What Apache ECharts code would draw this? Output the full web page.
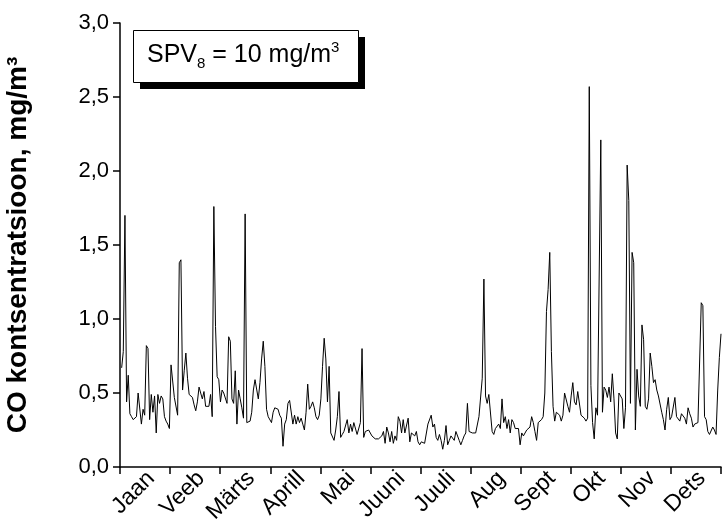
<!DOCTYPE html>
<html>
<head>
<meta charset="utf-8">
<script src="https://cdn.jsdelivr.net/npm/echarts@6/dist/echarts.min.js"></script>
<style>
html,body{margin:0;padding:0;background:#fff;}
#chart{width:722px;height:526px;}
</style>
</head>
<body>
<div id="chart"></div>
<script>
// Month labels (axis categories)
const months = ['Jaan','Veeb','Märts','Aprill','Mai','Juuni','Juuli','Aug','Sept','Okt','Nov','Dets'];
// Y tick values
const yTicks = [0, 0.5, 1.0, 1.5, 2.0, 2.5, 3.0];
// Daily CO concentration (mg/m3), month by month
const jan = [0.67,0.78,1.70,0.44,0.62,0.36,0.34,0.32,0.33,0.34,0.50,0.50,0.29,0.39,0.35,0.82,0.80,0.32,0.49,0.37,0.48,0.23,0.49,0.43,0.48,0.46,0.34,0.31,0.29,0.26,0.69];
const feb = [0.70,0.47,0.46,0.35,1.38,1.40,0.52,0.65,0.77,0.60,0.49,0.48,0.47,0.42,0.38,0.44,0.54,0.50,0.46,0.51,0.41,0.40,0.41,0.49,0.34,1.76,0.95,0.61];
const mar = [0.59,0.44,0.52,0.50,0.49,0.43,0.88,0.85,0.46,0.43,0.65,0.29,0.52,0.46,0.40,0.33,1.71,0.30,0.31,0.31,0.37,0.52,0.59,0.60,0.46,0.57,0.73,0.85,0.68,0.39,0.34];
const apr = [0.33,0.30,0.37,0.40,0.40,0.39,0.35,0.33,0.14,0.29,0.32,0.43,0.45,0.44,0.29,0.35,0.29,0.34,0.30,0.33,0.29,0.25,0.37,0.56,0.39,0.41,0.44,0.40,0.34,0.32];
const may = [0.35,0.46,0.68,0.87,0.73,0.44,0.68,0.23,0.22,0.18,0.25,0.34,0.51,0.20,0.22,0.24,0.23,0.32,0.23,0.29,0.24,0.30,0.31,0.22,0.23,0.30,0.80,0.20,0.24,0.23,0.25];
const jun = [0.24,0.21,0.20,0.19,0.18,0.19,0.18,0.21,0.24,0.16,0.27,0.23,0.17,0.24,0.16,0.21,0.18,0.34,0.31,0.23,0.32,0.23,0.23,0.33,0.17,0.23,0.22,0.21,0.24,0.17];
const jul = [0.15,0.17,0.17,0.16,0.15,0.29,0.30,0.35,0.27,0.29,0.20,0.18,0.22,0.18,0.12,0.18,0.28,0.15,0.18,0.21,0.20,0.18,0.24,0.25,0.18,0.15,0.18,0.21,0.23,0.43,0.24];
const aug = [0.23,0.23,0.23,0.23,0.24,0.34,0.34,0.60,1.27,0.48,0.43,0.49,0.49,0.24,0.22,0.26,0.25,0.29,0.26,0.46,0.30,0.34,0.26,0.32,0.23,0.32,0.30,0.26,0.27,0.26,0.15];
const sep = [0.23,0.21,0.22,0.25,0.26,0.27,0.34,0.30,0.24,0.18,0.30,0.30,0.32,0.34,0.50,1.05,1.20,1.45,0.78,0.41,0.31,0.37,0.37,0.35,0.31,0.35,0.50,0.49,0.41,0.37];
const oct = [0.48,0.57,0.44,0.42,0.51,0.51,0.35,0.35,0.33,0.31,0.33,2.57,0.55,0.30,0.19,0.40,0.35,0.36,2.21,0.37,0.54,0.52,0.47,0.54,0.44,0.63,0.46,0.23,0.19,0.50,0.49];
const nov = [0.46,0.26,0.40,2.04,1.80,0.43,1.45,1.38,0.25,0.66,0.48,0.41,0.96,0.86,0.41,0.39,0.46,0.77,0.68,0.57,0.59,0.52,0.48,0.47,0.37,0.32,0.25,0.39,0.47,0.32];
const dec = [0.34,0.34,0.47,0.34,0.33,0.31,0.36,0.37,0.33,0.29,0.40,0.36,0.33,0.27,0.29,0.30,0.30,0.30,1.11,1.09,0.34,0.32,0.24,0.22,0.22,0.27,0.25,0.22,0.52,0.74,0.90];

const daily = [].concat(jan, feb, mar, apr, may, jun, jul, aug, sep, oct, nov, dec);
const DAYS = 365;
const step = DAYS / 12;
const tickVals = months.map((m, k) => k * step).concat([DAYS]);
const labelVals = months.map((m, k) => (k + 0.62) * step);

const chart = echarts.init(document.getElementById('chart'), null, {renderer: 'canvas'});
const font = 'Liberation Sans, Arial, sans-serif';
chart.setOption({
  animation: false,
  backgroundColor: '#fff',
  grid: {left: 120, right: 1, top: 23, bottom: 59, containLabel: false, outerBoundsMode: 'none'},
  xAxis: {
    type: 'value', min: 0, max: DAYS,
    axisLine: {show: true, lineStyle: {color: '#000', width: 1.5}},
    axisTick: {show: true, customValues: tickVals, length: 7, inside: false, lineStyle: {color: '#000', width: 1.5}},
    axisLabel: {
      show: true, customValues: labelVals, rotate: 45, margin: 8,
      color: '#000', fontFamily: font, fontSize: 23,
      formatter: v => months[Math.floor(v / step)]
    },
    splitLine: {show: false}
  },
  yAxis: {
    type: 'value', min: 0, max: 3, interval: 0.5,
    name: 'CO kontsentratsioon, mg/m³',
    nameLocation: 'middle', nameGap: 88,
    nameTextStyle: {color: '#000', fontFamily: font, fontSize: 28, fontWeight: 'bold'},
    axisLine: {show: true, lineStyle: {color: '#000', width: 1.5}},
    axisTick: {show: true, length: 7, inside: false, lineStyle: {color: '#000', width: 1.5}},
    axisLabel: {
      color: '#000', fontFamily: font, fontSize: 22, margin: 11,
      formatter: v => v.toFixed(1).replace('.', ',')
    },
    splitLine: {show: false}
  },
  graphic: [
    {type: 'rect', left: 140, top: 37, shape: {width: 225, height: 52}, style: {fill: '#000'}},
    {type: 'rect', left: 133, top: 30, shape: {width: 225, height: 52}, style: {fill: '#fff', stroke: '#000', lineWidth: 1}},
    {type: 'text', left: 147, top: 40, style: {
      text: '{a|SPV}{b|8}{a| = 10 mg/m}{c|3}',
      rich: {
        a: {fontSize: 25, fontFamily: font, fill: '#000'},
        b: {fontSize: 15, fontFamily: font, fill: '#000', padding: [16, 0, 0, 0]},
        c: {fontSize: 15, fontFamily: font, fill: '#000', padding: [0, 0, 16, 0]}
      }
    }}
  ],
  series: [{
    type: 'line',
    data: daily.map((v, i) => [i + 1, v]),
    showSymbol: false,
    symbol: 'none',
    lineStyle: {color: '#000', width: 1},
    itemStyle: {color: '#000'}
  }]
});
</script>
</body>
</html>
